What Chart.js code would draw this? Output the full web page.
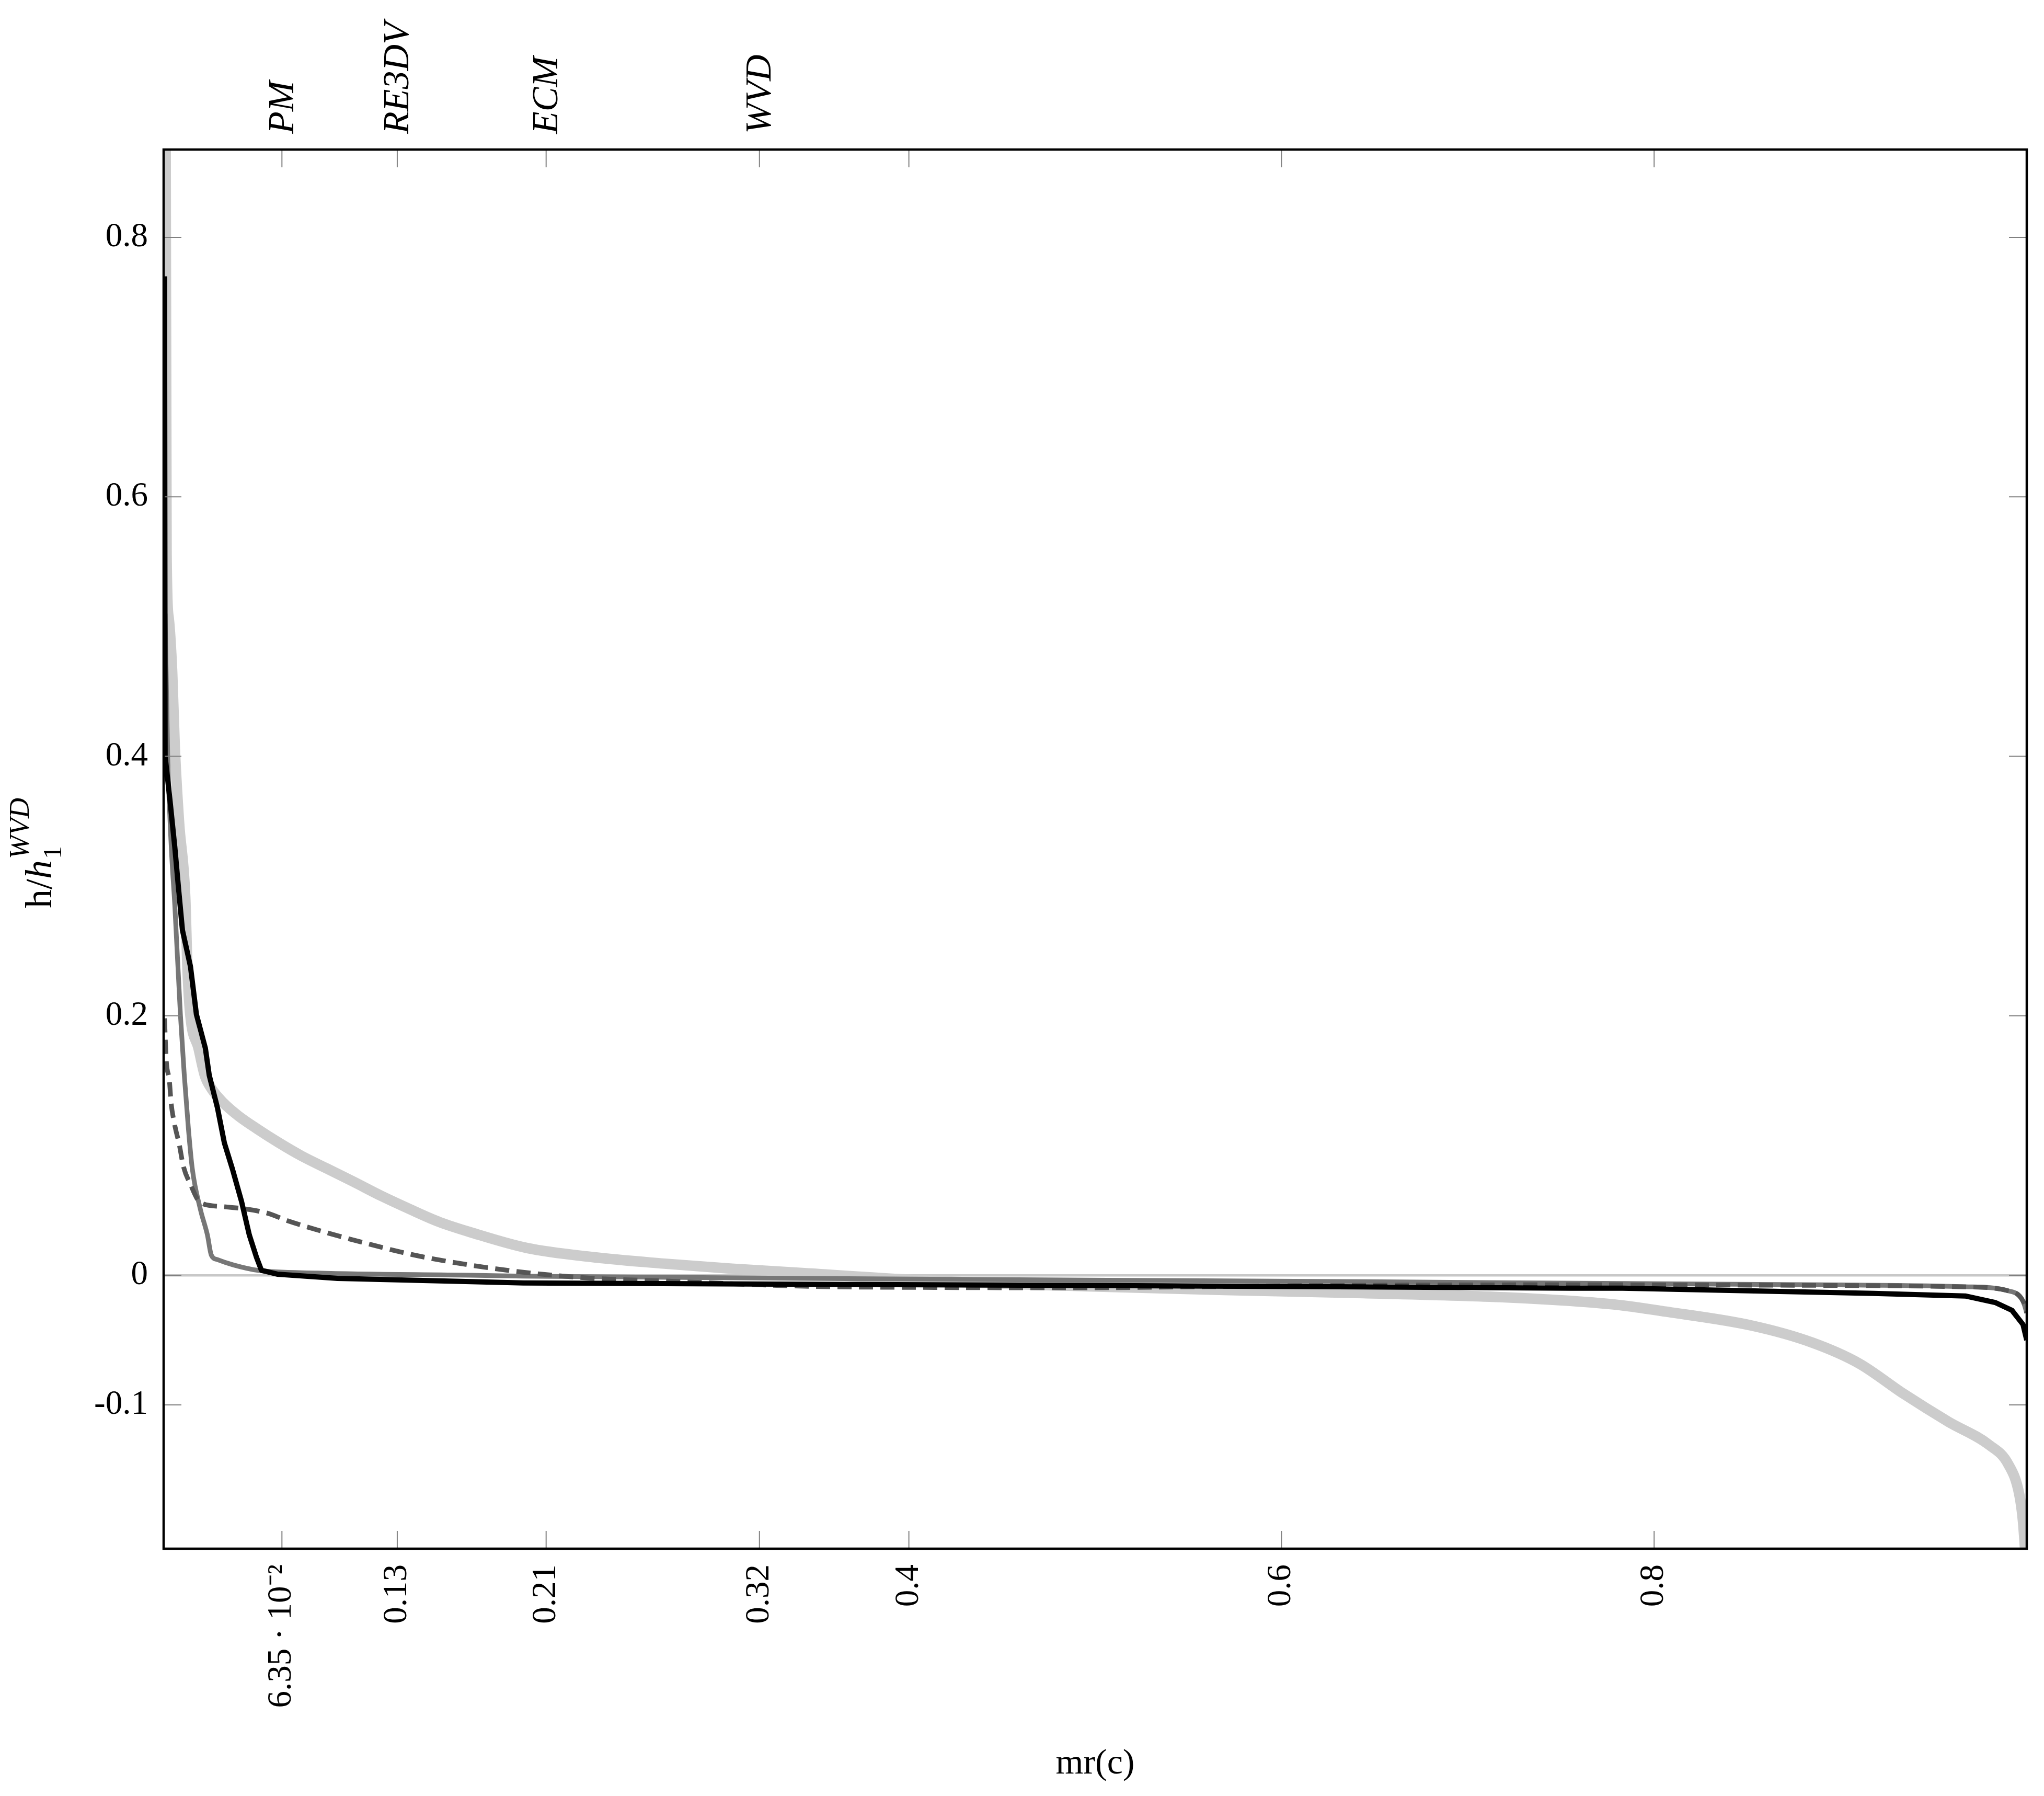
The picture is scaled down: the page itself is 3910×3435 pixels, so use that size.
<!DOCTYPE html>
<html>
<head>
<meta charset="utf-8">
<script src="https://cdn.jsdelivr.net/npm/chart.js@4.4.1/dist/chart.umd.min.js"></script>
<style>
  html, body { margin: 0; padding: 0; background: #fff; }
  canvas { display: block; }
</style>
</head>
<body>
<canvas id="chart" width="3910" height="3435"></canvas>
<script>
// tick marks and their labels
const xTickValues = [0.0635, 0.1254, 0.2053, 0.3198, 0.4, 0.6, 0.8];
const xTickLabels = ["6.35 · 10⁻²", "0.13", "0.21", "0.32", "0.4", "0.6", "0.8"];
const methodNames = ["PM", "RE3DV", "ECM", "WVD"];
const methodPos = [0.0635, 0.1254, 0.2053, 0.3198];
const yTickValues = [-0.1, 0, 0.2, 0.4, 0.6, 0.8];
const yTickLabels = ["-0.1", "0", "0.2", "0.4", "0.6", "0.8"];

// WVD (light grey, thick)
const wvdX = [0.0010, 0.0016, 0.0027, 0.0046, 0.0060, 0.0083, 0.0116, 0.0128, 0.0143, 0.0187, 0.0221, 0.0256, 0.032, 0.040, 0.050, 0.062, 0.074, 0.088, 0.102, 0.117, 0.132, 0.148, 0.165, 0.195, 0.230, 0.268, 0.305, 0.344, 0.404, 0.494, 0.569, 0.644, 0.720, 0.755, 0.783, 0.804, 0.853, 0.885, 0.910, 0.934, 0.958, 0.980, 0.990, 0.996, 0.998, 0.9995];
const wvdY = [0.95, 0.555, 0.507, 0.465, 0.407, 0.349, 0.292, 0.236, 0.201, 0.175, 0.154, 0.144, 0.133, 0.123, 0.113, 0.102, 0.092, 0.082, 0.072, 0.061, 0.051, 0.041, 0.033, 0.021, 0.014, 0.009, 0.005, 0.0016, -0.0037, -0.0085, -0.0114, -0.0138, -0.0170, -0.0198, -0.0233, -0.0276, -0.039, -0.052, -0.068, -0.0915, -0.113, -0.131, -0.1455, -0.169, -0.19, -0.22];

// PM (black)
const pmX = [0.0005, 0.0008, 0.0032, 0.0060, 0.0082, 0.0101, 0.0144, 0.0176, 0.0224, 0.0245, 0.0289, 0.0326, 0.0369, 0.0418, 0.0460, 0.0498, 0.0525, 0.0610, 0.0933, 0.165, 0.193, 0.344, 0.494, 0.644, 0.755, 0.783, 0.918, 0.967, 0.983, 0.992, 0.998, 1.0];
const pmY = [0.77, 0.40, 0.369, 0.330, 0.295, 0.266, 0.238, 0.201, 0.175, 0.154, 0.129, 0.102, 0.082, 0.057, 0.031, 0.014, 0.0038, 0.0008, -0.0024, -0.005, -0.006, -0.007, -0.0079, -0.009, -0.010, -0.010, -0.014, -0.016, -0.021, -0.027, -0.038, -0.050];

// RE3DV (mid grey)
const re3dvX = [0.0008, 0.0022, 0.0041, 0.0060, 0.0090, 0.0111, 0.0133, 0.0154, 0.0197, 0.0235, 0.0256, 0.0289, 0.0375, 0.0504, 0.0826, 0.165, 0.193, 0.344, 0.494, 0.644, 0.783, 0.900, 0.967, 0.990, 0.998, 1.0];
const re3dvY = [0.51, 0.40, 0.33, 0.285, 0.201, 0.154, 0.113, 0.082, 0.051, 0.031, 0.0155, 0.012, 0.0079, 0.0038, 0.0017, 0.0, -0.0007, -0.0024, -0.0037, -0.005, -0.0064, -0.0075, -0.0089, -0.012, -0.020, -0.029];

// ECM (dark grey, dashed)
const ecmX = [0.0005, 0.0014, 0.0031, 0.0040, 0.0058, 0.0085, 0.0106, 0.0144, 0.0197, 0.031, 0.0552, 0.0665, 0.088, 0.1095, 0.133, 0.155, 0.193, 0.231, 0.268, 0.344, 0.419, 0.494, 0.56, 0.64, 0.755, 0.900, 0.967, 0.990, 0.998, 1.0];
const ecmY = [0.198, 0.166, 0.150, 0.133, 0.117, 0.100, 0.084, 0.070, 0.056, 0.053, 0.048, 0.042, 0.0326, 0.0243, 0.016, 0.010, 0.0023, -0.0024, -0.0044, -0.0085, -0.0095, -0.0097, -0.0088, -0.0078, -0.0074, -0.0079, -0.009, -0.012, -0.020, -0.029];

const FONT = '"Liberation Serif", "Times New Roman", serif';

function pts(xs, ys) {
    return xs.map((x, i) => ({ x: x, y: ys[i] }));
}

const framePlugin = {
    id: "frame",
    afterDatasetsDraw(chart) {
        const { ctx, chartArea, scales } = chart;
        const { left, right, top, bottom } = chartArea;
        ctx.save();
        ctx.strokeStyle = "#808080";
        ctx.lineWidth = 2;
        ctx.beginPath();
        xTickValues.forEach(v => {
            let px = scales.x.getPixelForValue(v);
            ctx.moveTo(px, bottom); ctx.lineTo(px, bottom - 34);
            ctx.moveTo(px, top); ctx.lineTo(px, top + 34);
        });
        yTickValues.forEach(v => {
            let py = scales.y.getPixelForValue(v);
            ctx.moveTo(left, py); ctx.lineTo(left + 34, py);
            ctx.moveTo(right, py); ctx.lineTo(right - 34, py);
        });
        ctx.stroke();
        ctx.strokeStyle = "#000";
        ctx.lineWidth = 4.5;
        ctx.strokeRect(left, top, right - left, bottom - top);
        ctx.restore();
    },
    afterDraw(chart) {
        // y axis title h/h_1^WVD
        const ctx = chart.ctx;
        ctx.save();
        ctx.fillStyle = "#000";
        ctx.textAlign = "left";
        ctx.textBaseline = "alphabetic";
        ctx.font = "72px " + FONT;
        let w1 = ctx.measureText("h/").width;
        ctx.font = "italic 72px " + FONT;
        let w2 = ctx.measureText("h").width;
        ctx.translate(98, 1737);
        ctx.rotate(-Math.PI / 2);
        ctx.font = "72px " + FONT;
        ctx.fillText("h/", 0, 0);
        ctx.font = "italic 72px " + FONT;
        ctx.fillText("h", w1, 0);
        ctx.font = "50px " + FONT;
        ctx.fillText("1", w1 + w2 + 2, 19);
        ctx.font = "italic 54px " + FONT;
        ctx.fillText("WVD", w1 + w2 + 2, -43);
        ctx.restore();
    }
};

let ctx = document.getElementById("chart").getContext("2d");
new Chart(ctx, {
    type: "line",
    data: {
        datasets: [
            { label: "PM", data: pts(pmX, pmY), borderColor: "#000000", borderWidth: 10, order: 0, cubicInterpolationMode: "default", tension: 0 },
            { label: "ECM", data: pts(ecmX, ecmY), borderColor: "#555555", borderWidth: 9, borderDash: [27, 14], order: 1 },
            { label: "RE3DV", data: pts(re3dvX, re3dvY), borderColor: "#777777", borderWidth: 9, order: 2 },
            { label: "WVD", data: pts(wvdX, wvdY), borderColor: "#cccccc", borderWidth: 20, order: 3 }
        ]
    },
    options: {
        responsive: false,
        animation: false,
        devicePixelRatio: 1,
        clip: 0,
        elements: {
            point: { radius: 0 },
            line: { cubicInterpolationMode: "monotone", fill: false, borderJoinStyle: "round" }
        },
        layout: { padding: { left: 0, right: 33, top: 0, bottom: 0 } },
        plugins: {
            legend: { display: false },
            tooltip: { enabled: false }
        },
        scales: {
            x: {
                type: "linear",
                position: "bottom",
                min: 0,
                max: 1,
                afterBuildTicks: s => { s.ticks = xTickValues.map(v => ({ value: v })); },
                afterFit: s => { s.height = 473; },
                ticks: {
                    autoSkip: false,
                    minRotation: 90,
                    maxRotation: 90,
                    padding: 30,
                    color: "#000",
                    font: { family: FONT, size: 65 },
                    callback: (v, i) => xTickLabels[i]
                },
                grid: { display: false, drawTicks: false },
                border: { display: false },
                title: {
                    display: true,
                    text: "mr(c)",
                    color: "#000",
                    font: { family: FONT, size: 68 },
                    padding: { top: 0, bottom: 20 }
                }
            },
            x2: {
                type: "linear",
                position: "top",
                min: 0,
                max: 1,
                afterBuildTicks: s => { s.ticks = methodPos.map(v => ({ value: v })); },
                afterFit: s => { s.height = 286; },
                ticks: {
                    autoSkip: false,
                    minRotation: 90,
                    maxRotation: 90,
                    padding: 30,
                    labelOffset: 87,
                    color: "#000",
                    font: { family: FONT, size: 70, style: "italic" },
                    callback: (v, i) => methodNames[i]
                },
                grid: { display: false, drawTicks: false },
                border: { display: false }
            },
            y: {
                type: "linear",
                min: -0.2108,
                max: 0.8677,
                afterBuildTicks: s => { s.ticks = yTickValues.map(v => ({ value: v })); },
                afterFit: s => { s.width = 313; },
                ticks: {
                    padding: 30,
                    color: "#000",
                    font: { family: FONT, size: 65 },
                    callback: (v, i) => yTickLabels[i]
                },
                grid: {
                    drawTicks: false,
                    lineWidth: 4.5,
                    color: c => (c.tick && c.tick.value === 0 ? "#c8c8c8" : "rgba(0,0,0,0)")
                },
                border: { display: false }
            }
        }
    },
    plugins: [framePlugin]
});
</script>
</body>
</html>
